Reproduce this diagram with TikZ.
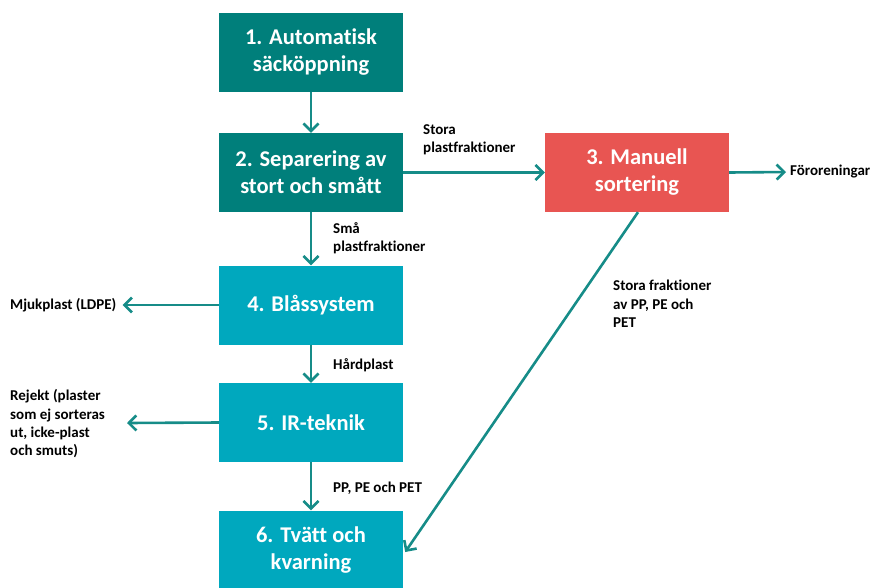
\documentclass[tikz,border=0pt]{standalone}
\usepackage{fontspec}
\setmainfont[Ligatures=NoCommon]{Carlito}
\usetikzlibrary{arrows.meta}
\definecolor{darkteal}{HTML}{007F7B}
\definecolor{lightteal}{HTML}{00A8BE}
\definecolor{redbox}{HTML}{E85552}
\definecolor{linec}{HTML}{168C88}
\begin{document}
\begin{tikzpicture}[x=1pt,y=-1pt,
  box/.style={minimum width=184pt,minimum height=79pt,inner sep=0pt,align=center,text=white,font=\bfseries\fontsize{22.5}{27}\selectfont},
  dbox/.style={box,fill=darkteal},
  lbox/.style={box,fill=lightteal},
  rbox/.style={box,fill=redbox},
  conn/.style={draw=linec,line width=2.6pt,-{Straight Barb[length=7.5pt,width=15pt,line width=2.6pt]}},
  lbl/.style={font=\bfseries\fontsize{15}{18.3}\selectfont,align=left,inner sep=0pt,anchor=west}]
\useasboundingbox (0,0) rectangle (873,587);
\node[dbox] (b1) at (311,52.5) {1. Automatisk\\säcköppning};
\node[dbox] (b2) at (311,172.5) {2. Separering av\\stort och smått};
\node[rbox] (b3) at (637,172.5) {3. Manuell\\sortering};
\node[lbox] (b4) at (311,305) {4. Blåssystem};
\node[lbox] (b5) at (311,422.5) {5. IR-teknik};
\node[lbox] (b6) at (311,550) {6. Tvätt och\\kvarning};
\node[lbl] (fo) at (790,172) {Föroreningar};
\node[lbl,anchor=west] (mj) at (10,305) {Mjukplast (LDPE)};
\node[lbl,anchor=west] (rj) at (10,424) {Rejekt (plaster\\som ej sorteras\\ut, icke-plast\\och smuts)};
\coordinate (rjend) at (127,423);
\node[lbl] (l1) at (423,140) {Stora\\plastfraktioner};
\node[lbl] (l2) at (333,238) {Små\\plastfraktioner};
\node[lbl] (l3) at (333,365) {Hårdplast};
\node[lbl] (l4) at (333,488) {PP, PE och PET};
\node[lbl] (l5) at (613,304) {Stora fraktioner\\av PP, PE och\\PET};
\draw[conn] (b1) -- (b2);
\draw[conn] (b2) -- (b3);
\draw[conn] (b2) -- (b4);
\draw[conn] (b4) -- (b5);
\draw[conn] (b5) -- (b6);
\draw[conn] (b3.east) -- ([xshift=-4pt]fo.west);
\draw[conn] (b4.west) -- ([xshift=6pt]mj.east);
\draw[conn] (b5.west) -- (rjend);
\draw[conn] ([xshift=1pt]b3.south) -- ([xshift=2pt,yshift=-2pt]b6.east);
\end{tikzpicture}
\end{document}
